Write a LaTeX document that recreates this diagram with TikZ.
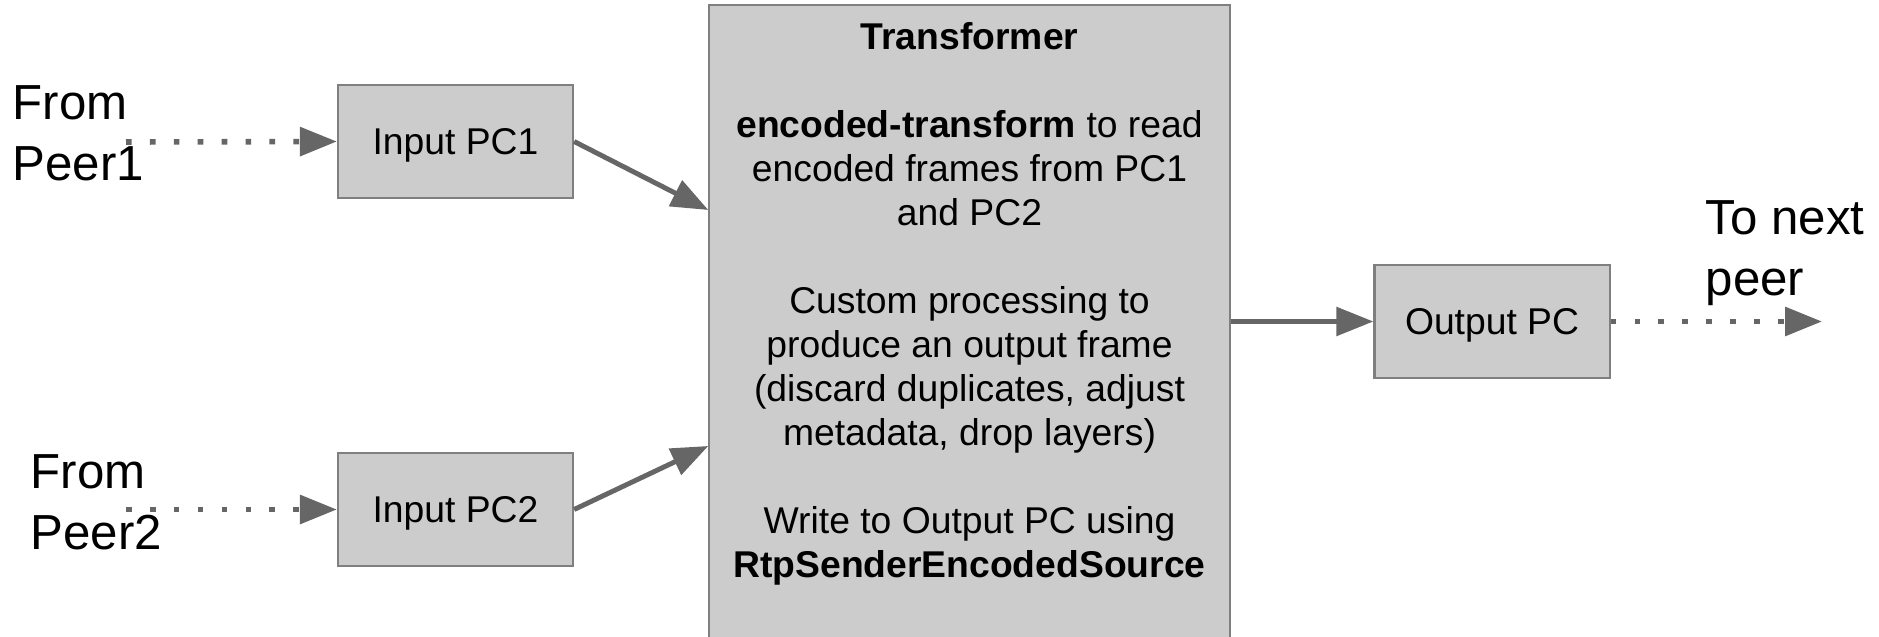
\documentclass[tikz,border=0pt]{standalone}
\usepackage{fontspec}
\setmainfont{Liberation Sans}
\usetikzlibrary{arrows.meta,positioning}
\definecolor{boxgray}{HTML}{CCCCCC}
\definecolor{edgegray}{HTML}{7F7F7F}
\definecolor{flowgray}{HTML}{666666}
\newcommand{\pcfont}{\fontsize{10.6}{12.5}\selectfont}
\newcommand{\peerfont}{\fontsize{14}{17.3}\selectfont}
\tikzset{
  pcbox/.style={
      draw=edgegray,
      fill=boxgray,
      line width=0.6pt,
      minimum width=2.35cm,
      minimum height=1.13cm,
      text depth=0pt,
      font=\pcfont,
  },
  transbox/.style={
      draw=edgegray,
      fill=boxgray,
      line width=0.6pt,
      minimum width=5.2cm,
      minimum height=6.5cm,
  },
  peerlabel/.style={
      anchor=west,
      align=left,
      inner sep=0pt,
      font=\peerfont,
  },
  solidflow/.style={
      draw=flowgray,
      line width=1.4pt,
      -{Triangle[length=10.5pt,width=8pt]},
  },
  dotflow/.style={
      solidflow,
      line width=1.6pt,
      dash pattern=on 1.6pt off 5.2pt,
  },
}

\begin{document}
\begin{tikzpicture}[x=0.01cm,y=-0.01cm]
  \useasboundingbox (0,0) rectangle (1879,637);

  % boxes
  \node[transbox] (trans) at (969.5,330) {};
  \node[pcbox] (in1) at (455.5,141.5) {Input PC1};
  \node[pcbox] (in2) at (455.5,509.5) {Input PC2};
  \node[pcbox] (out) at (1492,321.5) {Output PC};

  % transformer text
  \node[align=center, inner sep=0pt, font=\pcfont] (transtext) at (969.5,304) {%
      \textbf{Transformer}\\[12.5pt]
      \textbf{encoded-transform} to read\\
      encoded frames from PC1\\
      and PC2\\[12.5pt]
      Custom processing to\\
      produce an output frame\\
      (discard duplicates, adjust\\
      metadata, drop layers)\\[12.5pt]
      Write to Output PC using\\
      \textbf{RtpSenderEncodedSource}};

  % peers
  \node[peerlabel] (peer1) at (12,133.5) {From\\Peer1};
  \node[peerlabel] (peer2) at (30,502) {From\\Peer2};
  \node[peerlabel] (next) at (1705,253) {To next\\peer};

  \coordinate (src1) at (126,142);
  \coordinate (src2) at (126,509.5);
  \coordinate (dst) at (1822,321.5);

  % flows
  \draw[dotflow] (src1) -- (in1.west);
  \draw[dotflow] (src2) -- (in2.west);
  \draw[solidflow] (in1.east) -- (trans.west |- 0,210);
  \draw[solidflow] (in2.east) -- (trans.west |- 0,446);
  \draw[solidflow] (trans.east |- out.west) -- (out.west);
  \draw[dotflow] (out.east) -- (dst);
\end{tikzpicture}
\end{document}
